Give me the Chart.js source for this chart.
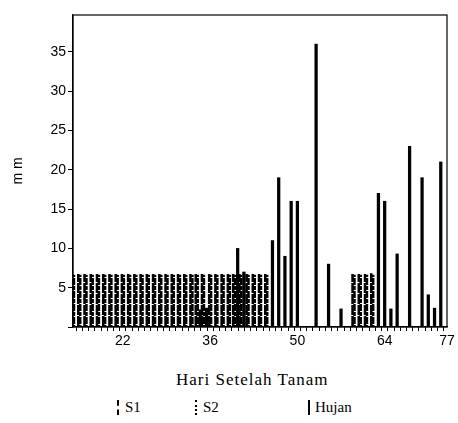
<!DOCTYPE html>
<html>
<head>
<meta charset="utf-8">
<title>Hari Setelah Tanam</title>
<script src="https://cdn.jsdelivr.net/npm/chart.js"></script>
<style>
  body { margin: 0; background: #fff; }
  .wrap { position: relative; width: 458px; height: 423px; }
  .chart-box { position: absolute; left: 0; top: 0; width: 458px; height: 352px; }
  .xtitle { position: absolute; left: 176px; top: 370px; font-family: "Liberation Serif", serif;
            font-size: 17px; letter-spacing: 1px; color: #000; white-space: nowrap; }
  .legend { font-family: "Liberation Serif", serif; font-size: 15px; color: #000; }
  .legend span { position: absolute; line-height: 16px; white-space: nowrap; }
  .mark { width: 0; height: 15px; border-left: 2px solid #000; }
  .mark.s1 { border-left-style: dashed; }
  .mark.s2 { border-left-style: dotted; }
</style>
</head>
<body>
<div class="wrap">
  <div class="chart-box"><canvas id="myChart"></canvas></div>
  <div class="xtitle">Hari Setelah Tanam</div>
  <div class="legend">
    <span class="mark s1" style="left:117px; top:400px;"></span>
    <span style="left:125px; top:399px;">S1</span>
    <span class="mark s2" style="left:195px; top:400px;"></span>
    <span style="left:203px; top:399px;">S2</span>
    <span class="mark" style="left:308px; top:400px;"></span>
    <span style="left:315px; top:399px;">Hujan</span>
  </div>
</div>
<script>
  // days after planting (one category per day)
  const days = [14, 15, 16, 17, 18, 19, 20, 21, 22, 23, 24, 25, 26, 27, 28, 29, 30,
    31, 32, 33, 34, 35, 36, 37, 38, 39, 40, 41, 42, 43, 44, 45, 46, 47, 48, 49, 50,
    51, 52, 53, 54, 55, 56, 57, 58, 59, 60, 61, 62, 63, 64, 65, 66, 67, 68, 69, 70,
    71, 72, 73, 74];

  // S1 irrigation (mm)
  const s1 = [
    6.7, 6.7, 6.7, 6.7, 6.7, 6.7, 6.7, 6.7, 6.7, 6.7,   // 14-23
    6.7, 6.7, 6.7, 6.7, 6.7, 6.7, 6.7, 6.7, 6.7, 6.7,   // 24-33
    6.7, 6.7, 6.7, 6.7, 6.7, 6.7, 6.7, 6.7, 6.7, 6.7,   // 34-43
    6.7, 6.7, null, null, null, null, null, null, null, null, // 44-53
    null, null, null, null, null, 6.7, 6.7, 6.7, 6.8, null,   // 54-63
    null, null, null, null, null, null, null, null, null, null, // 64-73
    null                                                // 74
  ];

  // S2 irrigation (mm)
  const s2 = [
    6.6, 6.6, 6.6, 6.6, 6.6, 6.6, 6.6, 6.6, 6.6, 6.6,
    6.6, 6.6, 6.6, 6.6, 6.6, 6.6, 6.6, 6.6, 6.6, 6.6,
    6.6, 6.6, 6.6, 6.6, 6.6, 6.6, 6.6, 6.6, 6.6, 6.6,
    6.6, 6.6, null, null, null, null, null, null, null, null,
    null, null, null, null, null, 6.6, 6.6, 6.6, 6.6, null,
    null, null, null, null, null, null, null, null, null, null,
    null
  ];

  // rainfall (mm)
  const hujan = [
    null, null, null, null, null, null, null, null, null, null, // 14-23
    null, null, null, null, null, null, null, null, null, null, // 24-33
    2.2, 2.4, null, null, null, null, 10, 7, null, null,        // 34-43
    null, null, 11, 19, 9, 16, 16, null, null, 36,              // 44-53
    null, 8, null, 2.3, null, null, null, null, null, 17,       // 54-63
    16, 2.3, 9.3, null, 23, null, 19, 4.1, 2.4, 21,             // 64-73
    null                                                        // 74
  ];

  const xTickDays = [22, 36, 50, 64, 74];
  const xTickText = ['22', '36', '50', '64', '77'];
  const yTicks = [5, 10, 15, 20, 25, 30, 35];

  // dashed / dotted fills for the two irrigation series
  function makePattern(rows) {
    const c = document.createElement('canvas');
    c.width = 1;
    c.height = rows.length;
    const g = c.getContext('2d');
    g.fillStyle = '#000';
    rows.forEach(function (on, i) { if (on) g.fillRect(0, i, 1, 1); });
    return g.createPattern(c, 'repeat');
  }

  // box around the plot area
  const framePlugin = {
    id: 'frame',
    afterDraw(chart) {
      const { ctx, chartArea: a } = chart;
      ctx.save();
      ctx.strokeStyle = '#000';
      ctx.lineWidth = 1.2;
      ctx.strokeRect(a.left, a.top, a.right - a.left, a.bottom - a.top);
      ctx.restore();
    }
  };

  const sans = { family: "'Liberation Sans', Arial, sans-serif", size: 14 };

  new Chart(document.getElementById('myChart'), {
    type: 'bar',
    data: {
      labels: days,
      datasets: [
        { label: 'S1', data: s1, backgroundColor: makePattern([1, 1, 1, 1, 1, 1, 1, 0, 1, 1, 1]), barThickness: 1.9 },
        { label: 'S2', data: s2, backgroundColor: makePattern([1, 1, 1, 1, 0, 1, 1, 1, 1, 1, 1, 1, 0]), barThickness: 1.9 },
        { label: 'Hujan', data: hujan, backgroundColor: '#000', barThickness: 2.6 }
      ]
    },
    options: {
      responsive: true,
      maintainAspectRatio: false,
      animation: false,
      skipNull: true,
      layout: { padding: { top: 15, right: 11, left: 0, bottom: 0 } },
      plugins: { legend: { display: false }, tooltip: { enabled: false } },
      scales: {
        x: {
          type: 'category',
          offset: false,
          afterFit: function (scale) { scale.height = 25; },
          grid: { drawOnChartArea: false, drawTicks: true, tickLength: 4, color: '#000' },
          border: { color: '#000', width: 1.2 },
          ticks: {
            autoSkip: false,
            maxRotation: 0,
            padding: 2,
            color: '#000',
            font: sans,
            callback: function (value) {
              const i = xTickDays.indexOf(days[value]);
              return i >= 0 ? xTickText[i] : '';
            }
          }
        },
        y: {
          min: 0,
          max: 39.7,
          afterFit: function (scale) { scale.width = 73; },
          grid: { drawOnChartArea: false, drawTicks: true, tickLength: 5, color: '#000' },
          border: { color: '#000', width: 1.2 },
          ticks: {
            stepSize: 5,
            includeBounds: false,
            padding: 2,
            color: '#000',
            font: sans,
            callback: function (value) {
              return yTicks.includes(value) ? String(value) : '';
            }
          },
          title: {
            display: true,
            text: 'm m',
            color: '#000',
            font: sans,
            padding: { top: 10, bottom: 0 }
          }
        }
      }
    },
    plugins: [framePlugin]
  });
</script>
</body>
</html>
